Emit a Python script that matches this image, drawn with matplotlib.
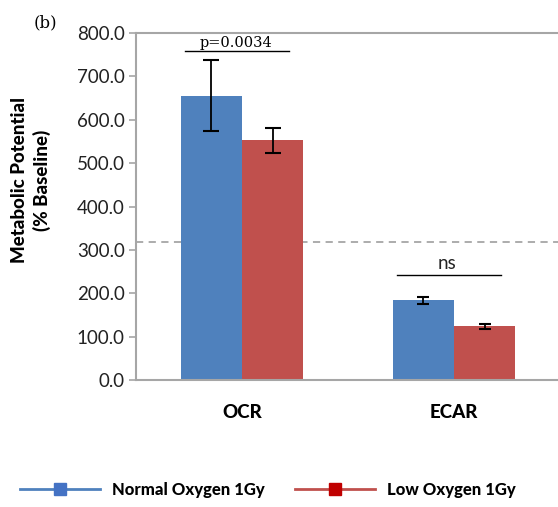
import numpy as np
import matplotlib
matplotlib.use("Agg")
import matplotlib.pyplot as plt
from matplotlib.lines import Line2D

# data
categories = ["OCR", "ECAR"]
normal_vals = [655.0, 184.0]
normal_err = [82.0, 8.0]
low_vals = [553.0, 124.0]
low_err = [29.0, 6.0]
baseline_ref = 319.0
series_labels = ["Normal Oxygen 1Gy", "Low Oxygen 1Gy"]
sig_labels = ["p=0.0034", "ns"]
sig_heights = [758.0, 242.0]
y_ticks = [0, 100, 200, 300, 400, 500, 600, 700, 800]

BLUE = "#4F81BD"
RED = "#C0504D"
BLUE_MK = "#4472C4"
RED_MK = "#C00000"
GRAY = "#A6A6A6"

plt.rcParams["font.family"] = ["Lato", "DejaVu Sans"]

fig = plt.figure(figsize=(5.58, 5.07), dpi=100)
ax = fig.add_axes([0.2437, 0.2505, 0.76, 0.6844])

x = np.arange(len(categories))
w = 0.289
ax.bar(x - w / 2, normal_vals, w, color=BLUE, zorder=2)
ax.bar(x + w / 2, low_vals, w, color=RED, zorder=2)

# error bars, caps narrower on the small group
caps = [5.5, 4.0]
for i in range(len(categories)):
    ax.errorbar(x[i] - w / 2, normal_vals[i], yerr=normal_err[i], fmt="none",
                ecolor="black", elinewidth=1.3, capsize=caps[i], capthick=1.5, zorder=3)
    ax.errorbar(x[i] + w / 2, low_vals[i], yerr=low_err[i], fmt="none",
                ecolor="black", elinewidth=1.3, capsize=caps[i], capthick=1.5, zorder=3)

# dashed reference line
ax.axhline(baseline_ref, color=GRAY, ls=(0, (4, 3)), lw=1.3, zorder=1)

# significance brackets
sig_spans = [(-0.27, 0.22), (0.73, 1.22)]
for (x0, x1), h, lab in zip(sig_spans, sig_heights, sig_labels):
    ax.plot([x0, x1], [h, h], color="black", lw=1.0, zorder=3)
fig.text(0.423, 0.916, sig_labels[0], ha="center", va="center",
         fontsize=10.5, family="DejaVu Serif")
ax.text(0.965, sig_heights[1] + 6, sig_labels[1], ha="center", va="bottom",
        fontsize=13.5, color="#222222")

ax.set_xlim(-0.5, 1.5)
ax.set_ylim(0, 800)
ax.set_yticks(y_ticks)
ax.set_yticklabels([f"{v:.1f}" for v in y_ticks], fontsize=13.5, color="#222222")
ax.set_xticks(x)
ax.set_xticklabels(categories, fontsize=13.5, fontweight="black")
ax.tick_params(axis="x", length=0, pad=17)
ax.tick_params(axis="y", length=5, width=1.2, color=GRAY, pad=3)

for s in ["left", "bottom", "top"]:
    ax.spines[s].set_color(GRAY)
    ax.spines[s].set_linewidth(1.5)
ax.spines["right"].set_visible(False)

ax.set_ylabel("Metabolic Potential\n(% Baseline)", fontsize=13.5,
              fontweight="black", linespacing=1.35)
ax.yaxis.set_label_coords(-0.2, 0.575)

fig.text(0.081, 0.955, "(b)", fontsize=12, family="DejaVu Serif",
         ha="center", va="center")

handles = [
    Line2D([0], [0], color=BLUE, lw=2, marker="s", markersize=9,
           markerfacecolor=BLUE_MK, markeredgecolor=BLUE_MK),
    Line2D([0], [0], color=RED, lw=2, marker="s", markersize=9,
           markerfacecolor=RED_MK, markeredgecolor=RED_MK),
]
fig.legend(handles, series_labels, loc="center", bbox_to_anchor=(0.48, 0.034),
           ncol=2, frameon=False, handlelength=4.8, handletextpad=0.75,
           columnspacing=1.8, prop={"weight": "black", "size": 12})

fig.savefig("out.png", dpi=100, facecolor="white")
